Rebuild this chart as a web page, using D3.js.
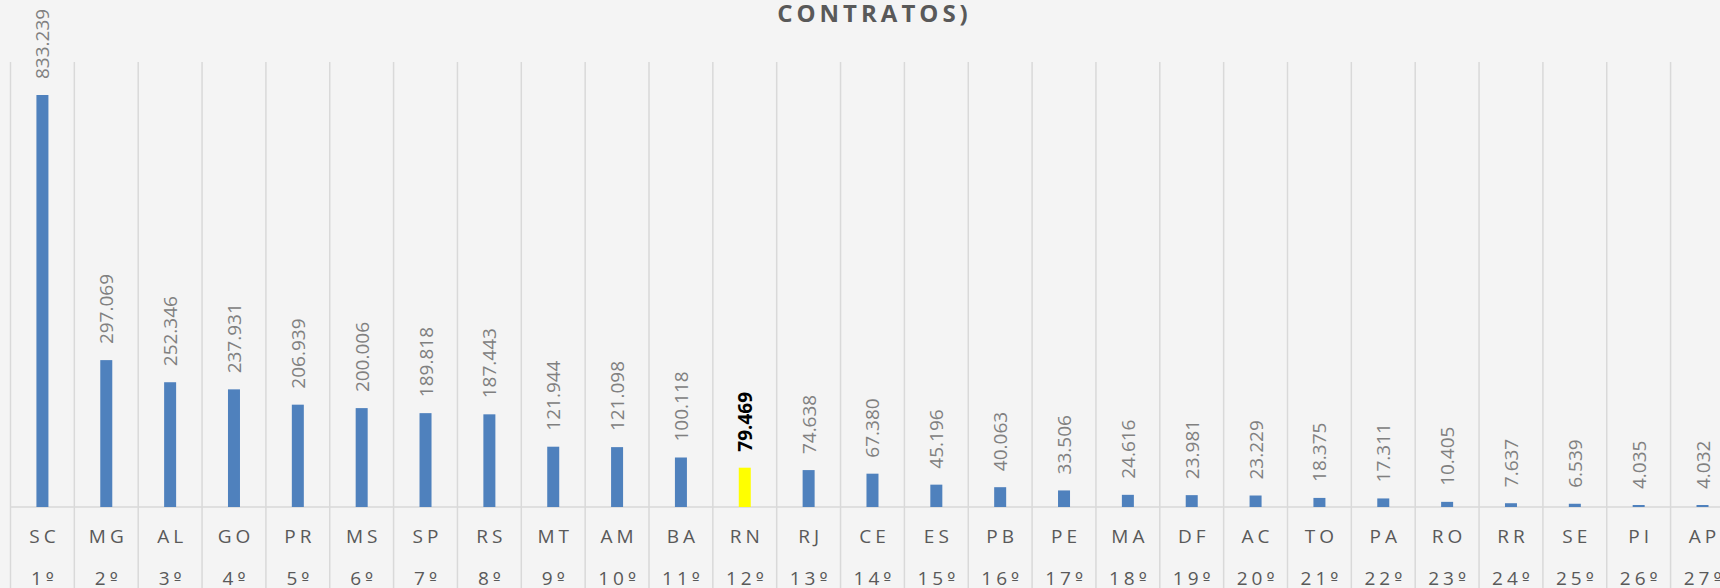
<!DOCTYPE html>
<html>
<head>
<meta charset="utf-8">
<script src="https://cdn.jsdelivr.net/npm/d3@7"></script>
<style>
  html, body { margin: 0; padding: 0; background: #f4f4f4; overflow: hidden; }
  svg { display: block; }
</style>
</head>
<body>
<script>
const states = ['SC','MG','AL','GO','PR','MS','SP','RS','MT','AM','BA','RN','RJ','CE','ES','PB','PE','MA','DF','AC','TO','PA','RO','RR','SE','PI','AP'];
const ranks = ['1º','2º','3º','4º','5º','6º','7º','8º','9º','10º','11º','12º','13º','14º','15º','16º','17º','18º','19º','20º','21º','22º','23º','24º','25º','26º','27º'];
const contratos = [833239,297069,252346,237931,206939,200006,189818,187443,121944,121098,100118,79469,74638,67380,45196,40063,33506,24616,23981,23229,18375,17311,10405,7637,6539,4035,4032];
const highlight = 'RN';

const width = 1720, height = 588;
const plot = { left: 10.5, right: 10.5 + 27 * 63.85, top: 62, bottom: 507 };

const fmt = d3.formatLocale({ decimal: ',', thousands: '.', grouping: [3], currency: ['R$', ''] }).format(',d');

const svg = d3.select('body').append('svg')
  .attr('width', width)
  .attr('height', height);

svg.append('rect').attr('width', width).attr('height', height).attr('fill', '#f4f4f4');

const x = d3.scaleBand()
  .domain(states)
  .range([plot.left, plot.right])
  .paddingInner(0).paddingOuter(0);

const y = d3.scaleLinear()
  .domain([0, 900000])
  .range([plot.bottom, plot.top]);

// title (first line is off the top of the picture)
svg.append('text')
  .attr('x', (plot.left + plot.right) / 2 + 2)
  .attr('y', 22)
  .attr('text-anchor', 'middle')
  .attr('font-family', 'Open Sans, sans-serif')
  .attr('font-weight', 'bold')
  .attr('font-size', 24)
  .attr('letter-spacing', 4)
  .attr('fill', '#595959')
  .text('CONTRATOS)');

// category separators, running down through the label table
const grid = svg.append('g').attr('stroke', '#d9d9d9').attr('stroke-width', 1.5);
grid.selectAll('line.sep')
  .data(states.concat(['end']))
  .join('line')
  .attr('class', 'sep')
  .attr('x1', (d, i) => i < states.length ? x(d) : plot.right)
  .attr('x2', (d, i) => i < states.length ? x(d) : plot.right)
  .attr('y1', plot.top)
  .attr('y2', height);
grid.append('line')
  .attr('x1', plot.left).attr('x2', plot.right)
  .attr('y1', plot.bottom).attr('y2', plot.bottom);

const barW = 12;
const data = states.map((s, i) => ({ state: s, rank: ranks[i], value: contratos[i] }));

svg.append('g').selectAll('rect')
  .data(data)
  .join('rect')
  .attr('x', d => x(d.state) + x.bandwidth() / 2 - barW / 2)
  .attr('width', barW)
  .attr('y', d => y(d.value))
  .attr('height', d => y(0) - y(d.value))
  .attr('fill', d => d.state === highlight ? '#ffff00' : '#4f81bd');

// value labels, rotated
svg.append('g').selectAll('text')
  .data(data)
  .join('text')
  .attr('transform', d => `translate(${x(d.state) + x.bandwidth() / 2 + 7},${y(d.value) - 16}) rotate(-90)`)
  .attr('font-family', 'Open Sans, sans-serif')
  .attr('font-size', 19)
  .attr('font-weight', d => d.state === highlight ? 'bold' : 'normal')
  .attr('fill', d => d.state === highlight ? '#000000' : '#808080')
  .text(d => fmt(d.value));

// category table
const cat = svg.append('g')
  .attr('font-family', 'Open Sans, sans-serif')
  .attr('font-size', 19)
  .attr('fill', '#595959')
  .attr('text-anchor', 'middle')
  .attr('letter-spacing', 4);
cat.selectAll('text.state')
  .data(data)
  .join('text')
  .attr('class', 'state')
  .attr('x', d => x(d.state) + x.bandwidth() / 2 + 2)
  .attr('y', 543)
  .text(d => d.state);
const rankText = cat.selectAll('text.rank')
  .data(data)
  .join('text')
  .attr('class', 'rank')
  .attr('x', d => x(d.state) + x.bandwidth() / 2 + 2)
  .attr('y', 585);
rankText.append('tspan').text(d => d.rank.slice(0, -1));
rankText.append('tspan')
  .attr('font-family', 'DejaVu Sans, sans-serif')
  .attr('font-size', 17)
  .text(d => d.rank.slice(-1));
</script>
</body>
</html>
